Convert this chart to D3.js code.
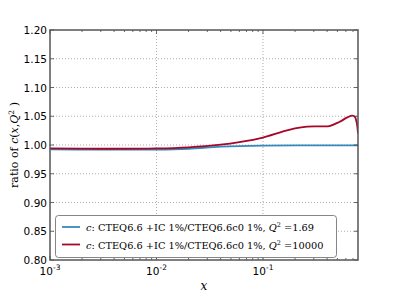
<!DOCTYPE html>
<html>
<head>
<meta charset="utf-8">
<script src="https://cdn.jsdelivr.net/npm/d3@7"></script>
<style>
  body { margin: 0; background: #fff; }
  svg { display: block; }
</style>
</head>
<body>
<script>
// values
const redX = [0.001, 0.003, 0.01, 0.02, 0.04, 0.06, 0.1, 0.15, 0.2, 0.26, 0.33, 0.42, 0.52, 0.62, 0.69, 0.73, 0.76, 0.78];
const redY = [0.994, 0.9935, 0.994, 0.996, 1.0005, 1.005, 1.013, 1.023, 1.029, 1.032, 1.0325, 1.033, 1.04, 1.048, 1.051, 1.049, 1.038, 1.02];
const blueX = [0.001, 0.003, 0.01, 0.02, 0.04, 0.1, 0.3, 0.78];
const blueY = [0.9925, 0.992, 0.992, 0.9935, 0.997, 0.999, 0.9993, 0.9993];
const yTicks = [0.80, 0.85, 0.90, 0.95, 1.00, 1.05, 1.10, 1.15, 1.20];
const xTicks = [1e-3, 1e-2, 1e-1];
const xTickExp = ["-3", "-2", "-1"];
const legendLabels = ["1.69", "10000"];

const W = 399, H = 299;
const pLeft = 50, pRight = 358, pTop = 30, pBottom = 260;
const colors = ["#348ABD", "#A60628"];

const x = d3.scaleLog().domain([1e-3, 0.78]).range([pLeft, pRight]);
const y = d3.scaleLinear().domain([0.8, 1.2]).range([pBottom, pTop]);

const svg = d3.select("body").append("svg").attr("width", W).attr("height", H);

// grid
const grid = svg.append("g").attr("stroke", "#999").attr("stroke-width", 0.8).attr("stroke-dasharray", "1,2");
grid.selectAll("line.gy").data(yTicks.slice(1, -1)).enter().append("line")
  .attr("x1", pLeft).attr("x2", pRight).attr("y1", d => y(d)).attr("y2", d => y(d));
grid.selectAll("line.gx").data(xTicks.slice(1)).enter().append("line")
  .attr("y1", pTop).attr("y2", pBottom).attr("x1", d => x(d)).attr("x2", d => x(d));

// curves
const line = d3.line().x(d => x(d[0])).y(d => y(d[1])).curve(d3.curveCatmullRom);
const series = [d3.zip(blueX, blueY), d3.zip(redX, redY)];
svg.append("clipPath").attr("id", "clip").append("rect")
  .attr("x", pLeft).attr("y", pTop).attr("width", pRight - pLeft).attr("height", pBottom - pTop);
svg.append("g").attr("clip-path", "url(#clip)").selectAll("path").data(series).enter().append("path")
  .attr("d", line).attr("fill", "none").attr("stroke", (d, i) => colors[i]).attr("stroke-width", 1.8);

// ticks
const minor = [];
for (let e = -3; e < 0; e++) for (let m = 2; m <= 9; m++) { const v = m * Math.pow(10, e); if (v <= 0.78) minor.push(v); }
const ticks = svg.append("g").attr("stroke", "#444").attr("stroke-width", 0.8);
ticks.selectAll("line.mb").data(minor).enter().append("line")
  .attr("x1", d => x(d)).attr("x2", d => x(d)).attr("y1", pBottom).attr("y2", pBottom - 2);
ticks.selectAll("line.mt").data(minor).enter().append("line")
  .attr("x1", d => x(d)).attr("x2", d => x(d)).attr("y1", pTop).attr("y2", pTop + 2);
ticks.selectAll("line.Mb").data(xTicks).enter().append("line")
  .attr("x1", d => x(d)).attr("x2", d => x(d)).attr("y1", pBottom).attr("y2", pBottom - 4);
ticks.selectAll("line.Mt").data(xTicks).enter().append("line")
  .attr("x1", d => x(d)).attr("x2", d => x(d)).attr("y1", pTop).attr("y2", pTop + 4);
ticks.selectAll("line.yl").data(yTicks).enter().append("line")
  .attr("x1", pLeft).attr("x2", pLeft + 4).attr("y1", d => y(d)).attr("y2", d => y(d));
ticks.selectAll("line.yr").data(yTicks).enter().append("line")
  .attr("x1", pRight).attr("x2", pRight - 4).attr("y1", d => y(d)).attr("y2", d => y(d));

// frame
svg.append("rect").attr("x", pLeft).attr("y", pTop).attr("width", pRight - pLeft).attr("height", pBottom - pTop)
  .attr("fill", "none").attr("stroke", "#555").attr("stroke-width", 1.5);

// y tick labels
svg.append("g").selectAll("text").data(yTicks).enter().append("text")
  .attr("x", pLeft - 3).attr("y", d => y(d) + 4)
  .attr("text-anchor", "end").attr("font-family", "DejaVu Sans").attr("font-size", 10.5)
  .text(d => d.toFixed(2));

// x tick labels
const xl = svg.append("g").selectAll("text").data(xTicks).enter().append("text")
  .attr("x", d => x(d)).attr("y", 275)
  .attr("text-anchor", "middle").attr("font-family", "DejaVu Sans").attr("font-size", 10.5);
xl.append("tspan").text("10");
xl.append("tspan").attr("dy", -5).attr("font-size", 7.5).text((d, i) => xTickExp[i]);

// axis labels
svg.append("text").attr("x", (pLeft + pRight) / 2).attr("y", 290).attr("text-anchor", "middle")
  .attr("font-family", "DejaVu Serif").attr("font-style", "italic").attr("font-size", 12).text("x");

const yl = svg.append("text").attr("transform", "translate(18,145) rotate(-90)").attr("text-anchor", "middle")
  .attr("font-family", "DejaVu Serif").attr("font-size", 11);
yl.append("tspan").text("ratio of ");
yl.append("tspan").attr("font-style", "italic").text("c");
yl.append("tspan").text("(");
yl.append("tspan").attr("font-style", "italic").text("x");
yl.append("tspan").text(",");
yl.append("tspan").attr("font-style", "italic").text("Q");
yl.append("tspan").attr("dy", -4).attr("font-size", 7.5).text("2");
yl.append("tspan").attr("dy", 4).text(" )");

// legend
const lg = svg.append("g");
lg.append("rect").attr("x", 55.5).attr("y", 215.5).attr("width", 281).attr("height", 42).attr("rx", 3)
  .attr("fill", "#fff").attr("stroke", "#666").attr("stroke-width", 0.8);
const rows = lg.selectAll("g.row").data(legendLabels).enter().append("g")
  .attr("transform", (d, i) => `translate(0,${227 + i * 17.5})`);
rows.append("line").attr("x1", 62).attr("x2", 80).attr("stroke", (d, i) => colors[i]).attr("stroke-width", 1.8);
const lt = rows.append("text").attr("x", 86).attr("y", 4)
  .attr("font-family", "DejaVu Serif").attr("font-size", 9.8);
lt.append("tspan").attr("font-style", "italic").text("c");
lt.append("tspan").text(": CTEQ6.6 +IC 1%/CTEQ6.6c0 1%, ");
lt.append("tspan").attr("font-style", "italic").text("Q");
lt.append("tspan").attr("dy", -4).attr("font-size", 6.5).text("2");
lt.append("tspan").attr("dy", 4).text(d => " =" + d);
</script>
</body>
</html>
